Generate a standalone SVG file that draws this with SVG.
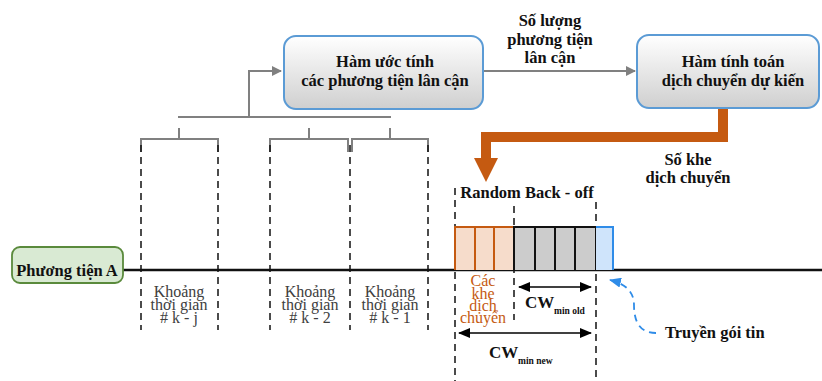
<svg xmlns="http://www.w3.org/2000/svg" width="822" height="381" viewBox="0 0 822 381">
<defs>
<linearGradient id="boxg" x1="0" y1="0" x2="0" y2="1">
<stop offset="0" stop-color="#ffffff"/>
<stop offset="1" stop-color="#cfcfcf"/>
</linearGradient>
<marker id="garrow" markerWidth="10" markerHeight="10" refX="9" refY="5" orient="auto" markerUnits="userSpaceOnUse">
<path d="M0,0 L10,5 L0,10 z" fill="#808080"/>
</marker>
<marker id="barrow" markerWidth="12" markerHeight="10" refX="11" refY="5" orient="auto-start-reverse" markerUnits="userSpaceOnUse">
<path d="M0,0 L12,5 L0,10 z" fill="#000"/>
</marker>
<marker id="bluearrow" markerWidth="12" markerHeight="10" refX="11" refY="5" orient="auto" markerUnits="userSpaceOnUse">
<path d="M0,0 L12,5 L0,10 z" fill="#2f8ce8"/>
</marker>
</defs>
<style>
.box{fill:url(#boxg);stroke:#5b9bd5;stroke-width:2}
.t{font-family:'Liberation Serif','DejaVu Serif',serif;font-weight:bold;font-size:16.5px;fill:#111;text-anchor:middle}
.n{font-family:'Liberation Serif','DejaVu Serif',serif;font-size:16px;fill:#404040;text-anchor:middle}
.o{font-family:'Liberation Serif','DejaVu Serif',serif;font-size:16px;fill:#c55a11;text-anchor:middle}
.gl{stroke:#808080;stroke-width:2;fill:none}
.dash{stroke:#111;stroke-width:1.5;stroke-dasharray:7,5;fill:none}
.sub{font-family:'Liberation Serif','DejaVu Serif',serif;font-weight:bold;font-size:9.5px;fill:#111}
</style>

<g id="connectors">
<path class="gl" d="M178,117 H391"/>
<path class="gl" d="M249,117 V71 H281" marker-end="url(#garrow)"/>
<path class="gl" d="M179,128 V139 M141,152 V139 H218 V152"/>
<path class="gl" d="M309,128 V139 M270,152 V139 H348 V152"/>
<path class="gl" d="M390,128 V139 M352,152 V139 H428 V152"/>
<path class="gl" d="M484,71 H635" marker-end="url(#garrow)"/>
<path d="M723,108 V137 H486 V160" fill="none" stroke="#c55a11" stroke-width="10"/>
<polygon points="474,158 498,158 486,182" fill="#c55a11"/>
<path class="dash" d="M141,145 V330 M218,145 V330 M270,145 V330 M350,145 V330 M428,145 V330"/>
<path class="dash" d="M455,188 V381 M514,206 V320 M596,202 V381"/>
<line x1="123" y1="270" x2="822" y2="270" stroke="#111" stroke-width="2.5"/>
<path d="M519,287 H591" stroke="#000" stroke-width="1.5" marker-start="url(#barrow)" marker-end="url(#barrow)"/>
<path d="M459,333 H591" stroke="#000" stroke-width="1.5" marker-start="url(#barrow)" marker-end="url(#barrow)"/>
<path d="M656,333 C640,333 634,322 634,305 C634,292 626,284 610,280" fill="none" stroke="#2f8ce8" stroke-width="1.8" stroke-dasharray="7,5" marker-end="url(#bluearrow)"/>
</g>

<g id="box-estimate">
<rect class="box" x="284" y="36" width="199" height="73" rx="12"/>
<text class="t" x="385" y="67">Hàm ước tính</text>
<text class="t" x="385" y="86">các phương tiện lân cận</text>
</g>

<g id="box-compute">
<rect class="box" x="637" y="35" width="182" height="73" rx="12"/>
<text class="t" x="733" y="67">Hàm tính toán</text>
<text class="t" x="733" y="86">dịch chuyển dự kiến</text>
</g>

<g id="label-count">
<text class="t" x="550" y="26">Số lượng</text>
<text class="t" x="550" y="45">phương tiện</text>
<text class="t" x="550" y="63">lân cận</text>
</g>

<g id="label-slots">
<text class="t" x="688" y="165">Số khe</text>
<text class="t" x="688" y="183">dịch chuyển</text>
</g>

<g id="node-vehicle">
<rect x="12" y="247" width="111" height="36" rx="8" fill="#d9ead3" stroke="#5a8a3c" stroke-width="1.8"/>
<text class="t" x="67" y="276">Phương tiện A</text>
</g>

<g id="interval-kj">
<text class="n" x="179" y="297">Khoảng</text>
<text class="n" x="179" y="310">thời gian</text>
<text class="n" x="179" y="323"># k - j</text>
</g>
<g id="interval-k2">
<text class="n" x="310" y="297">Khoảng</text>
<text class="n" x="310" y="310">thời gian</text>
<text class="n" x="310" y="323"># k - 2</text>
</g>
<g id="interval-k1">
<text class="n" x="390" y="297">Khoảng</text>
<text class="n" x="390" y="310">thời gian</text>
<text class="n" x="390" y="323"># k - 1</text>
</g>

<g id="backoff">
<text class="t" x="527" y="198">Random Back - off</text>
<rect x="455" y="227" width="59" height="43" fill="#f6dccb"/>
<path d="M455,270 V227 H514 M475,227 V270 M494,227 V270" fill="none" stroke="#c55a11" stroke-width="2"/>
<rect x="514" y="227" width="82" height="43" fill="#cccccc"/>
<path d="M514,270 V227 H596 V270 M535,227 V270 M555,227 V270 M575,227 V270" fill="none" stroke="#111" stroke-width="2"/>
<rect x="596" y="227" width="17" height="43" fill="#cfe4fb"/>
<path d="M596,227 H613 V270" fill="none" stroke="#2f8ce8" stroke-width="2"/>
</g>

<g id="label-shift">
<text class="o" x="483" y="286">Các</text>
<text class="o" x="483" y="299">khe</text>
<text class="o" x="483" y="311">dịch</text>
<text class="o" x="483" y="323">chuyển</text>
</g>

<g id="label-cwold">
<text class="t" x="525" y="308" style="text-anchor:start;font-size:17px">CW</text>
<text class="sub" x="554" y="314">min old</text>
</g>
<g id="label-cwnew">
<text class="t" x="489" y="358" style="text-anchor:start;font-size:17px">CW</text>
<text class="sub" x="518" y="364">min new</text>
</g>

<g id="label-transmit">
<text class="t" x="665" y="338" style="text-anchor:start">Truyền gói tin</text>
</g>
</svg>
